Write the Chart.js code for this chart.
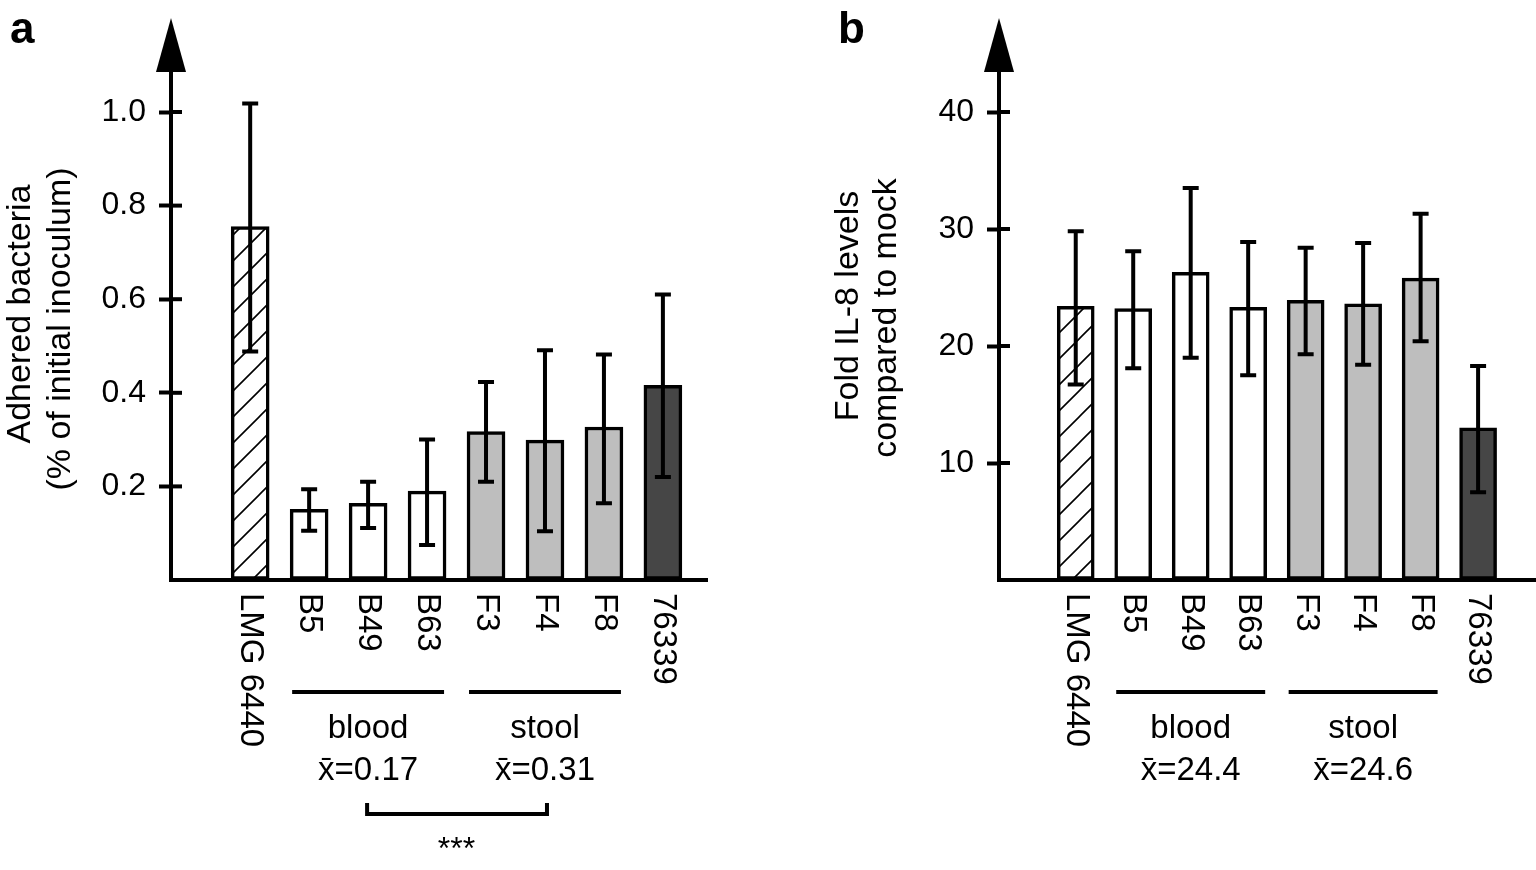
<!DOCTYPE html>
<html>
<head>
<meta charset="utf-8">
<script src="https://cdn.jsdelivr.net/npm/chart.js@4"></script>
<style>
  html, body { margin: 0; padding: 0; background: #fff; }
  body { width: 1536px; height: 870px; position: relative; overflow: hidden; }
  canvas { position: absolute; top: 0; }
  #adhesion { left: 0; }
  #il8 { left: 768px; }
</style>
</head>
<body>
<canvas id="adhesion" width="768" height="870"></canvas>
<canvas id="il8" width="768" height="870"></canvas>
<script>
const strains = ['LMG 6440', 'B5', 'B49', 'B63', 'F3', 'F4', 'F8', '76339']

// panel a: adhered bacteria (% of initial inoculum)
const adhesion = [0.755, 0.151, 0.164, 0.19, 0.317, 0.299, 0.327, 0.416]
const adhesionHigh = [1.018, 0.194, 0.21, 0.30, 0.423, 0.491, 0.482, 0.61]
const adhesionLow = [0.488, 0.105, 0.111, 0.075, 0.21, 0.104, 0.164, 0.22]
const adhesionTicks = [0.2, 0.4, 0.6, 0.8, 1.0]

// panel b: fold IL-8 levels compared to mock
const il8 = [23.4, 23.2, 26.3, 23.3, 23.9, 23.6, 25.8, 13.0]
const il8High = [29.8, 28.1, 33.5, 28.9, 28.4, 28.8, 31.3, 18.3]
const il8Low = [16.7, 18.1, 19.0, 17.5, 19.3, 18.4, 20.4, 7.5]
const il8Ticks = [10, 20, 30, 40]

const bloodIdx = [1, 2, 3]
const stoolIdx = [4, 5, 6]
const groupText = {
  a: { blood: '0.17', stool: '0.31' },
  b: { blood: '24.4', stool: '24.6' },
}

const FONT = '"Liberation Sans", Arial, sans-serif'

function hatch() {
  const c = document.createElement('canvas')
  c.width = 26; c.height = 26
  const g = c.getContext('2d')
  g.fillStyle = '#fff'
  g.fillRect(0, 0, 26, 26)
  g.strokeStyle = '#000'
  g.lineWidth = 1.6
  g.beginPath()
  g.moveTo(-2, 28); g.lineTo(28, -2)
  g.moveTo(-2, 2); g.lineTo(2, -2)
  g.moveTo(24, 28); g.lineTo(28, 24)
  g.stroke()
  return g.createPattern(c, 'repeat')
}

function fills() {
  return strains.map((s, i) => {
    if (i === 0) return hatch()
    if (bloodIdx.includes(i)) return '#ffffff'
    if (stoolIdx.includes(i)) return '#bebebe'
    return '#464646'
  })
}

const decor = {
  id: 'decor',
  afterDatasetsDraw(chart, args, o) {
    const ctx = chart.ctx
    const x = chart.scales.x, y = chart.scales.y
    const area = chart.chartArea
    ctx.save()
    ctx.strokeStyle = '#000'
    ctx.fillStyle = '#000'

    // error bars
    ctx.lineWidth = 4
    o.values.forEach((v, i) => {
      const px = x.getPixelForValue(i)
      const hi = y.getPixelForValue(o.high[i])
      const lo = y.getPixelForValue(o.low[i])
      ctx.beginPath()
      ctx.moveTo(px, hi); ctx.lineTo(px, lo)
      ctx.moveTo(px - 8, hi); ctx.lineTo(px + 8, hi)
      ctx.moveTo(px - 8, lo); ctx.lineTo(px + 8, lo)
      ctx.stroke()
    })

    // inner half of y tick marks
    o.ticks.forEach(t => {
      const py = y.getPixelForValue(t)
      ctx.beginPath()
      ctx.moveTo(area.left, py); ctx.lineTo(area.left + 11, py)
      ctx.stroke()
    })

    // arrow head on y axis
    ctx.beginPath()
    ctx.moveTo(area.left - 15, area.top)
    ctx.lineTo(area.left + 15, area.top)
    ctx.lineTo(area.left, area.top - 54)
    ctx.closePath()
    ctx.fill()

    // strain labels, rotated clockwise
    ctx.font = '33px ' + FONT
    ctx.textAlign = 'left'
    ctx.textBaseline = 'middle'
    strains.forEach((s, i) => {
      ctx.save()
      ctx.translate(x.getPixelForValue(i), 593)
      ctx.rotate(Math.PI / 2)
      ctx.fillText(s, 0, 0)
      ctx.restore()
    })

    // group bars and means
    const groups = [['blood', bloodIdx], ['stool', stoolIdx]]
    const mids = []
    groups.forEach(([name, idx]) => {
      const x0 = x.getPixelForValue(idx[0]) - 17
      const x1 = x.getPixelForValue(idx[idx.length - 1]) + 17
      const mid = (x0 + x1) / 2
      mids.push(mid)
      ctx.lineWidth = 4
      ctx.beginPath()
      ctx.moveTo(x0, 692); ctx.lineTo(x1, 692)
      ctx.stroke()
      ctx.textAlign = 'center'
      ctx.textBaseline = 'alphabetic'
      ctx.font = '33px ' + FONT
      ctx.fillText(name, mid, 738)
      ctx.fillText('x\u0304=' + o.means[name], mid, 780)
    })

    // significance bracket
    if (o.bracket) {
      ctx.lineWidth = 4
      ctx.beginPath()
      ctx.moveTo(mids[0] - 1, 803)
      ctx.lineTo(mids[0] - 1, 814)
      ctx.lineTo(mids[1] + 2, 814)
      ctx.lineTo(mids[1] + 2, 803)
      ctx.stroke()
      ctx.font = '32px ' + FONT
      ctx.textAlign = 'center'
      ctx.fillText('***', (mids[0] + mids[1]) / 2, 859)
    }

    // y axis title
    ctx.font = '34px ' + FONT
    ctx.textAlign = 'center'
    ctx.textBaseline = 'middle'
    o.title.forEach((line, k) => {
      ctx.save()
      ctx.translate(o.titleX[k], o.titleY[k])
      ctx.rotate(-Math.PI / 2)
      ctx.fillText(line, 0, 0)
      ctx.restore()
    })

    // panel letter
    ctx.font = 'bold 44px ' + FONT
    ctx.textAlign = 'left'
    ctx.textBaseline = 'alphabetic'
    ctx.fillText(o.letter, o.letterX, 43)
    ctx.restore()
  }
}

function makeChart(id, cfg) {
  return new Chart(document.getElementById(id), {
    type: 'bar',
    data: {
      datasets: [{
        data: cfg.values.map((v, i) => ({ x: i, y: v })),
        backgroundColor: fills(),
        borderColor: '#000',
        borderWidth: 3.5,
        borderSkipped: false,
        barThickness: cfg.barWidth,
      }],
    },
    options: {
      responsive: false,
      animation: false,
      devicePixelRatio: 1,
      layout: { padding: { left: 0, top: 72, right: cfg.padRight, bottom: 0 } },
      plugins: {
        legend: { display: false },
        tooltip: { enabled: false },
        decor: cfg.decor,
      },
      scales: {
        x: {
          type: 'linear',
          offset: false,
          min: cfg.xMin,
          max: cfg.xMax,
          grid: { display: true, drawOnChartArea: false, drawTicks: false },
          ticks: { display: false },
          border: { display: true, color: '#000', width: 4 },
          afterFit(s) { s.height = 290 },
        },
        y: {
          min: 0,
          max: cfg.yMax,
          ticks: {
            stepSize: cfg.step,
            includeBounds: false,
            color: '#000',
            padding: 13,
            font: { family: FONT, size: 32 },
            callback: v => (v === 0 ? '' : cfg.fmt(v)),
          },
          grid: {
            drawOnChartArea: false,
            tickLength: 12,
            tickWidth: 4,
            tickColor: c => (c.tick && c.tick.value === 0 ? 'rgba(0,0,0,0)' : '#000'),
          },
          border: { display: true, color: '#000', width: 4 },
          afterFit(s) { s.width = cfg.axisLeft },
        },
      },
    },
    plugins: [decor],
  })
}

makeChart('adhesion', {
  values: adhesion,
  barWidth: 38,
  padRight: 61,
  axisLeft: 171,
  xMin: -1.343,
  xMax: 7.748,
  yMax: 1.0855,
  step: 0.2,
  fmt: v => v.toFixed(1),
  decor: {
    values: adhesion, high: adhesionHigh, low: adhesionLow, ticks: adhesionTicks,
    means: groupText.a, bracket: true,
    title: ['Adhered bacteria', '(% of initial inoculum)'],
    titleX: [21, 61], titleY: [314, 329],
    letter: 'a', letterX: 10,
  },
})

makeChart('il8', {
  values: il8,
  barWidth: 37,
  padRight: 1,
  axisLeft: 231,
  xMin: -1.335,
  xMax: 7.99,
  yMax: 43.42,
  step: 10,
  fmt: v => String(v),
  decor: {
    values: il8, high: il8High, low: il8Low, ticks: il8Ticks,
    means: groupText.b, bracket: false,
    title: ['Fold IL-8 levels', 'compared to mock'],
    titleX: [81, 119], titleY: [306, 318],
    letter: 'b', letterX: 70,
  },
})
</script>
</body>
</html>
